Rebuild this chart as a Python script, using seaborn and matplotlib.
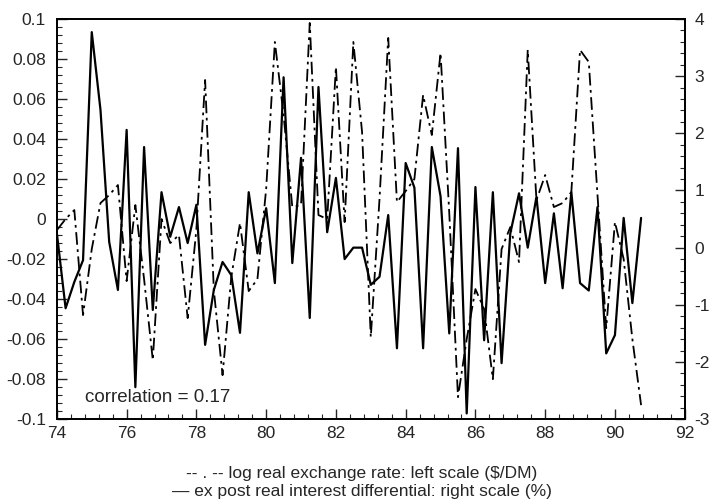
import numpy as np
import pandas as pd
import seaborn as sns
import matplotlib.pyplot as plt
from matplotlib.ticker import MultipleLocator, FuncFormatter

# quarterly dates 74:1 .. 90:4
quarters = np.arange(74, 91, 0.25)

# log real exchange rate, left scale ($/DM)
exchange_rate = [
    -0.0055, 0.0, 0.0045, -0.048, -0.015, 0.008, 0.012, 0.017,
    -0.031, 0.007, -0.03, -0.0705, 0.0, -0.012, -0.008, -0.0495,
    -0.005, 0.0695, -0.0355, -0.078, -0.029, -0.002, -0.036, -0.03,
    0.015, 0.0885, 0.052, 0.006, 0.007, 0.098, 0.002, 0.0,
    0.076, -0.0015, 0.0885, 0.0435, -0.059, 0.01, 0.0905, 0.0085,
    0.014, 0.02, 0.062, 0.042, 0.083, 0.003, -0.089, -0.06,
    -0.035, -0.045, -0.08, -0.015, -0.004, -0.0215, 0.0845, 0.0095,
    0.022, 0.006, 0.008, 0.0135, 0.0845, 0.0785, 0.012, -0.0545,
    -0.0015, -0.02, -0.06, -0.093,
]

# ex post real interest differential, right scale (%)
interest_diff = [
    0.25, -1.06, -0.6, -0.22, 3.77, 2.41, 0.1, -0.74,
    2.06, -2.44, 1.76, -1.09, 0.97, 0.19, 0.71, 0.08,
    0.75, -1.70, -0.74, -0.25, -0.48, -1.49, 0.97, -0.1,
    0.69, -0.62, 2.98, -0.27, 1.57, -1.23, 2.81, 0.27,
    1.22, -0.2, 0.0, 0.0, -0.65, -0.51, 0.57, -1.76,
    1.48, 1.05, -1.76, 1.76, 0.9, -1.5, 1.74, -2.9,
    1.06, -1.62, 0.97, -2.02, 0.25, 0.95, 0.0, 0.89,
    -0.62, 0.6, -0.71, 0.97, -0.62, -0.75, 0.71, -1.85,
    -1.53, 0.52, -0.97, 0.52,
]

df = pd.DataFrame({"date": quarters, "exch": exchange_rate, "rate": interest_diff})

sns.set_style("ticks")
plt.rcParams["font.family"] = ["Liberation Sans", "DejaVu Sans"]
plt.rcParams["axes.unicode_minus"] = False

fig, ax = plt.subplots(figsize=(7.11, 4.99), dpi=100)
fig.subplots_adjust(left=0.080, right=0.963, top=0.962, bottom=0.160)
ax2 = ax.twinx()

sns.lineplot(data=df, x="date", y="exch", ax=ax, color="black", linewidth=1.3)
ax.lines[0].set_linestyle((0, (7, 2.5, 1.5, 2.5)))
sns.lineplot(data=df, x="date", y="rate", ax=ax2, color="black", linewidth=1.6)

ax.set_xlim(74, 92)
ax.set_ylim(-0.1, 0.1)
ax2.set_ylim(-3, 4)

ax.xaxis.set_major_locator(MultipleLocator(2))
ax.xaxis.set_minor_locator(MultipleLocator(0.4))
ax.yaxis.set_major_locator(MultipleLocator(0.02))
ax.yaxis.set_minor_locator(MultipleLocator(0.004))
ax2.yaxis.set_major_locator(MultipleLocator(1))
ax2.yaxis.set_minor_locator(MultipleLocator(0.2))

def fmt(v, pos):
    v = round(v, 3) + 0.0
    return f"{v:g}"

ax.yaxis.set_major_formatter(FuncFormatter(fmt))
ax2.yaxis.set_major_formatter(FuncFormatter(fmt))
ax.xaxis.set_major_formatter(FuncFormatter(fmt))

ax.tick_params(axis="both", which="major", direction="in", length=7, width=1,
               labelsize=12.5, pad=8, top=False, right=False)
ax.tick_params(axis="both", which="minor", direction="in", length=3.5, width=0.8,
               top=False, right=False)
ax.tick_params(axis="x", which="major", pad=5)
ax2.tick_params(axis="y", which="major", direction="in", length=7, width=1,
                labelsize=12.5, pad=7)
ax2.tick_params(axis="y", which="minor", direction="in", length=3.5, width=0.8)

for a in (ax, ax2):
    a.set_xlabel("")
    a.set_ylabel("")
    for s in a.spines.values():
        s.set_linewidth(1.3)
        s.set_color("black")

ax.text(0.045, 0.053, "correlation = 0.17", transform=ax.transAxes,
        fontsize=13.5, va="center", ha="left")

fig.text(0.509, 0.052, r"-- . -- log real exchange rate: left scale (\$/DM)",
         ha="center", va="center", fontsize=12.5)
fig.text(0.509, 0.016, "\u2014 ex post real interest differential: right scale (%)",
         ha="center", va="center", fontsize=12.5)

fig.savefig("out.png", dpi=100)
